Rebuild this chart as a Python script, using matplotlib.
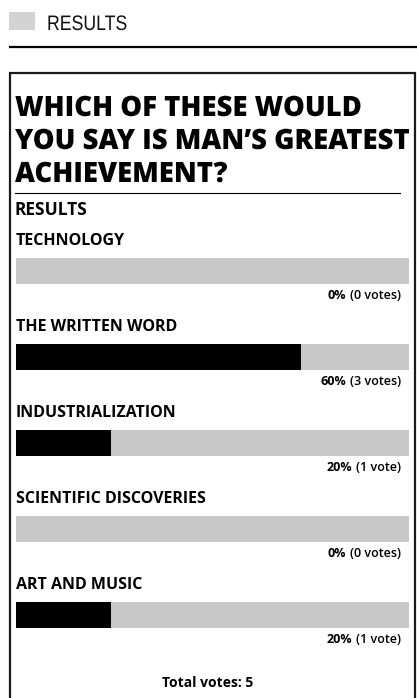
import matplotlib
matplotlib.use("Agg")
import matplotlib.pyplot as plt
from matplotlib.patches import Rectangle, PathPatch
from matplotlib.textpath import TextPath
from matplotlib.font_manager import FontProperties
from matplotlib.transforms import Affine2D

# poll data
options = ["TECHNOLOGY", "THE WRITTEN WORD", "INDUSTRIALIZATION",
           "SCIENTIFIC DISCOVERIES", "ART AND MUSIC"]
percents = [0, 60, 20, 0, 20]
votes = [0, 3, 1, 0, 1]
total_votes = 5
question = ["WHICH OF THESE WOULD", "YOU SAY IS MAN\u2019S GREATEST",
            "ACHIEVEMENT?"]
# value at the right end of the grey track, as rendered in the picture
track_max = 82.7

FONT = ["Open Sans", "DejaVu Sans"]
W, H = 417, 698
fig = plt.figure(figsize=(W / 100, H / 100), dpi=100)
fig.patch.set_facecolor("white")

# page decoration, pixel coordinates
page = fig.add_axes([0, 0, 1, 1])
page.set_xlim(0, W)
page.set_ylim(H, 0)
page.axis("off")


def squeezed_text(ax, s, x, baseline, size, sx, prop, color="black"):
    """Draw text as a path, narrowed horizontally by sx (y axis points down)."""
    tp = TextPath((0, 0), s, size=size, prop=prop)
    tr = Affine2D().scale(sx, -1).translate(x, baseline)
    ax.add_patch(PathPatch(tr.transform_path(tp), color=color, lw=0))
    return tp


page.add_patch(Rectangle((9, 12), 26, 18, color="#d3d3d3", lw=0))

# condensed header
hprop = FontProperties(family="Liberation Sans")
hw = TextPath((0, 0), "RESULTS", size=21, prop=hprop).get_extents().width
squeezed_text(page, "RESULTS", 47, 30, 21, 78 / hw, hprop, "#111111")

page.plot([9, W], [46.5, 46.5], color="black", lw=1.6, solid_capstyle="butt")

# poll box
page.plot([10, 10, 415, 415], [H + 5, 73, 73, H + 5], color="#1a1a1a",
          lw=1.6, solid_joinstyle="miter")

# question, narrowed so the longest line fits the box
tprop = FontProperties(family="Open Sans", weight="heavy")
tsize = 28
widest = max(TextPath((0, 0), s, size=tsize, prop=tprop).get_extents().width
             for s in question)
tsx = min(1.0, 394 / widest)
for k, line in enumerate(question):
    squeezed_text(page, line, 15, 116 + 33 * k, tsize, tsx, tprop)

page.plot([15, 400], [193, 193], color="black", lw=0.8)
page.text(15, 210, "RESULTS", fontsize=12.5, fontweight="bold",
          family=FONT, va="center", ha="left")

# bars
ax = fig.add_axes([16 / W, 1 - 658 / H, 393 / W, 430 / H])
ax.set_xlim(0, track_max)
ax.set_ylim(len(options) - 0.5, -0.5)
ax.axis("off")

pos = list(range(len(options)))
ax.barh(pos, [track_max] * len(options), height=0.31, left=0,
        color="#c8c8c8", lw=0)
ax.barh(pos, percents, height=0.31, left=0, color="black", lw=0)

ytr = ax.get_yaxis_transform()
for i, (name, p, v) in enumerate(zip(options, percents, votes)):
    ax.text(0, i - 0.35, name, transform=ytr, fontsize=11.5,
            fontweight="bold", family=FONT, va="center", ha="left")
    word = "vote" if v == 1 else "votes"
    vt = ax.text(0.98, i + 0.29, f"({v} {word})", transform=ytr,
                 fontsize=9, fontweight="semibold", family=FONT,
                 va="center", ha="right")
    ax.annotate(f"{p}%", xy=(0, 0.5), xycoords=vt, xytext=(-3, 0),
                textcoords="offset points", fontsize=9, fontweight="bold",
                family=FONT, va="center", ha="right")

page.text(208, 683, f"Total votes: {total_votes}", fontsize=10,
          fontweight="bold", family=FONT, va="center", ha="center")

fig.savefig("out.png", dpi=100)
